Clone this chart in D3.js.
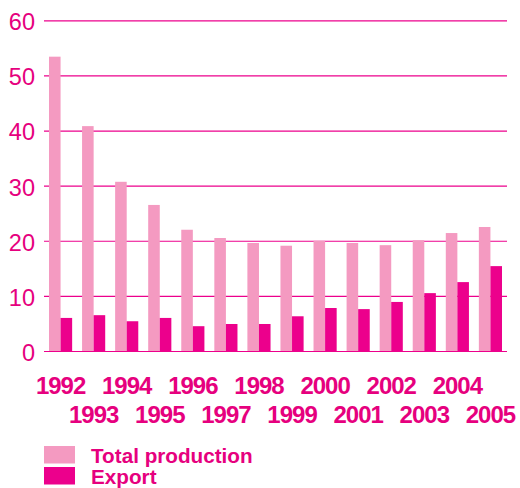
<!DOCTYPE html>
<html>
<head>
<meta charset="utf-8">
<script src="https://cdn.jsdelivr.net/npm/d3@7"></script>
<style>
  body { margin: 0; background: #fff; }
  text { font-family: "Liberation Sans", Arial, Helvetica, sans-serif; fill: #e6007e; }
</style>
</head>
<body>
<div id="chart"></div>
<script>
const years = ["1992", "1993", "1994", "1995", "1996", "1997", "1998", "1999", "2000", "2001", "2002", "2003", "2004", "2005"];
const totalProduction = [53.4, 40.8, 30.7, 26.5, 22.0, 20.5, 19.6, 19.1, 20.0, 19.6, 19.2, 20.1, 21.4, 22.5];
const exportValues = [6.0, 6.5, 5.4, 6.0, 4.5, 4.9, 4.9, 6.3, 7.8, 7.6, 8.9, 10.5, 12.5, 15.4];
const yTicks = [0, 10, 20, 30, 40, 50, 60];
const seriesNames = ["Total production", "Export"];

const width = 520, height = 488;
const colors = { total: "#f49ac1", export: "#ec008c" };

const svg = d3.select("#chart").append("svg")
    .attr("width", width)
    .attr("height", height);

const y = d3.scaleLinear().domain([0, 60]).range([351, 20.3]);
const x0 = d3.scaleBand().domain(years).range([49, 502]).paddingInner(0.3).paddingOuter(0);
const x1 = d3.scaleBand().domain(["total", "export"]).range([0, x0.bandwidth()]);

// gridlines + y labels
const yAxis = svg.append("g")
    .attr("transform", "translate(44,0)")
    .call(d3.axisLeft(y).tickValues(yTicks).tickSize(-463).tickPadding(9));
yAxis.select(".domain").remove();
yAxis.selectAll("line").attr("stroke", "#ec008c").attr("stroke-width", 1.2);
yAxis.selectAll("text")
    .attr("dy", "0.4em")
    .style("font-size", "23.5px")
    .attr("fill", "#e6007e");

// bars
const data = years.map((yr, i) => ({ year: yr, total: totalProduction[i], export: exportValues[i] }));
const groups = svg.append("g").selectAll("g")
    .data(data)
    .join("g")
    .attr("transform", d => `translate(${x0(d.year)},0)`);

groups.selectAll("rect")
    .data(d => ["total", "export"].map(k => ({ key: k, value: d[k] })))
    .join("rect")
    .attr("x", d => x1(d.key))
    .attr("y", d => y(d.value))
    .attr("width", x1.bandwidth())
    .attr("height", d => y(0) - y(d.value))
    .attr("fill", d => colors[d.key]);

// x labels, staggered in two rows
const xAxis = svg.append("g")
    .attr("transform", "translate(0,351)")
    .call(d3.axisBottom(x0).tickSize(0).tickPadding(0));
xAxis.select(".domain").remove();
xAxis.selectAll("text")
    .attr("y", (d, i) => i % 2 === 0 ? 43 : 72)
    .attr("dy", 0)
    .attr("fill", "#e6007e")
    .style("font-size", "24px")
    .style("font-weight", "bold")
    .style("letter-spacing", "-1px");

// legend
const legend = svg.append("g");
const legendKeys = ["total", "export"];
legend.selectAll("rect")
    .data(legendKeys)
    .join("rect")
    .attr("x", 44)
    .attr("y", (d, i) => 446 + i * 21)
    .attr("width", 31)
    .attr("height", 17.5)
    .attr("fill", d => colors[d]);
legend.selectAll("text")
    .data(seriesNames)
    .join("text")
    .attr("x", 91)
    .attr("y", (d, i) => 463 + i * 20.5)
    .style("font-size", "20.7px")
    .style("font-weight", "bold")
    .text(d => d);
</script>
</body>
</html>
